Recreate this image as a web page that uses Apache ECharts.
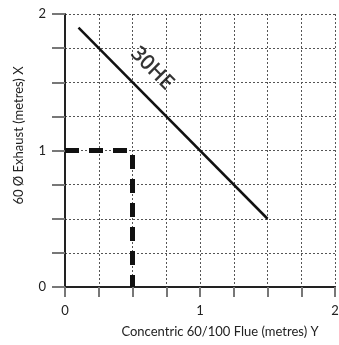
<!DOCTYPE html>
<html><head><meta charset="utf-8">
<script src="https://cdn.jsdelivr.net/npm/echarts@6/dist/echarts.min.js"></script>
<style>html,body{margin:0;padding:0;background:#fff}#c{width:339px;height:345px}</style>
</head><body><div id="c"></div>
<script>
const lineX = [0.1, 1.5];
const lineY = [1.9, 0.5];
const limitX = [0, 0.5, 0.5];
const limitY = [1, 1, 0];
const curveLabel = '30HE';
const labelPos = [0.645, 1.6];
const xTickLabels = {0: '0', 1: '1', 2: '2'};
const yTickLabels = {0: '0', 1: '1', 2: '2'};
const xName = 'Concentric 60/100 Flue (metres) Y';
const yName = '60 Ø Exhaust (metres) X';

const font = 'Lato, "Open Sans", sans-serif';
const chart = echarts.init(document.getElementById('c'));
chart.setOption({
  animation: false,
  grid: {left: 65, right: 4, top: 14, bottom: 58, containLabel: false, outerBoundsMode: 'none'},
  xAxis: {
    type: 'value', min: 0, max: 2, interval: 0.25,
    axisLine: {show: true, onZero: false, lineStyle: {color: '#222', width: 2}},
    axisTick: {show: true, length: 10, lineStyle: {color: '#777', width: 2}},
    axisLabel: {margin: 17, color: '#222', fontSize: 13, fontFamily: font,
      formatter: v => (xTickLabels[v] !== undefined ? xTickLabels[v] : '')},
    splitLine: {show: true, lineStyle: {color: '#555', width: 1, type: [2, 2]}},
    name: xName, nameLocation: 'middle', nameGap: 38,
    nameTextStyle: {color: '#222', fontSize: 13, fontFamily: font, padding: [0, 0, 0, 40]}
  },
  yAxis: {
    type: 'value', min: 0, max: 2, interval: 0.25,
    axisLine: {show: true, onZero: false, lineStyle: {color: '#222', width: 2}},
    axisTick: {show: true, length: 13, lineStyle: {color: '#777', width: 2}},
    axisLabel: {margin: 19, color: '#222', fontSize: 13, fontFamily: font,
      formatter: v => (yTickLabels[v] !== undefined ? yTickLabels[v] : '')},
    splitLine: {show: true, lineStyle: {color: '#555', width: 1, type: [2, 2]}},
    name: yName, nameLocation: 'middle', nameGap: 40,
    nameTextStyle: {color: '#222', fontSize: 13, fontFamily: font, padding: [0, 0, 0, 30]}
  },
  series: [
    {type: 'line', data: lineX.map((x, i) => [x, lineY[i]]), symbol: 'none',
      lineStyle: {color: '#111', width: 2.5}},
    {type: 'line', data: limitX.map((x, i) => [x, limitY[i]]), symbol: 'none',
      lineStyle: {color: '#111', width: 5, type: [14, 10]}},
    {type: 'scatter', data: [labelPos], symbolSize: 0, itemStyle: {color: '#000'},
      label: {show: true, position: 'inside', formatter: curveLabel, rotate: -45,
        color: '#000', fontSize: 21, fontWeight: 600, fontFamily: '"Open Sans", sans-serif', textBorderWidth: 0}}
  ]
});
</script></body></html>
